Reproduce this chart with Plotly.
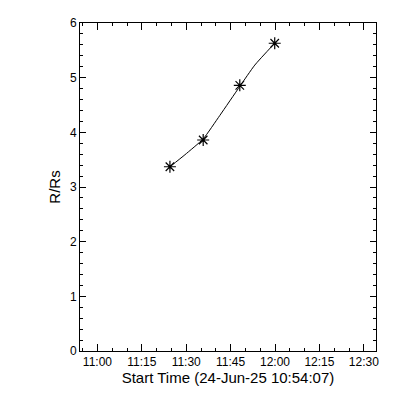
import plotly.graph_objects as go

# Measured data points (time, R/Rs)
times = ["2025-06-24 11:24:30", "2025-06-24 11:35:44", "2025-06-24 11:48:06", "2025-06-24 11:59:54"]
r_rs = [3.37, 3.86, 4.86, 5.63]

# Fitted curve
fit_times = ["2025-06-24 11:24:30", "2025-06-24 11:29:34", "2025-06-24 11:35:44",
             "2025-06-24 11:41:22", "2025-06-24 11:48:06", "2025-06-24 11:53:10",
             "2025-06-24 11:59:54"]
fit_vals = [3.37, 3.59, 3.88, 4.31, 4.84, 5.23, 5.63]

x_range = ["2025-06-24 10:54:07", "2025-06-24 12:34:07"]
y_range = [0, 6]

tick_font = dict(family="Liberation Sans", size=12, color="black")
title_font = dict(family="Liberation Sans", size=15, color="black")

fig = go.Figure()
fig.add_trace(go.Scatter(x=fit_times, y=fit_vals, mode="lines",
                         line=dict(color="black", width=1, shape="spline", smoothing=0.5),
                         hoverinfo="skip"))
fig.add_trace(go.Scatter(x=times, y=r_rs, mode="markers",
                         marker=dict(symbol="asterisk-open", size=10, color="black",
                                     line=dict(color="black", width=1.2))))

fig.update_layout(
    width=400, height=400,
    margin=dict(l=72, r=32, t=15, b=57),
    paper_bgcolor="white", plot_bgcolor="white",
    showlegend=False, font=tick_font,
)
fig.update_xaxes(
    type="date", range=x_range, tickformat="%H:%M",
    tick0="2025-06-24 11:00:00", dtick=900000,
    ticks="inside", ticklen=7, tickcolor="black", tickwidth=1,
    minor=dict(ticks="inside", ticklen=3, dtick=300000, tickcolor="black",
               tick0="2025-06-24 11:00:00"),
    showline=True, linecolor="black", linewidth=1, mirror="ticks",
    showgrid=False, zeroline=False, automargin=False,
    title=dict(text="Start Time (24-Jun-25 10:54:07)", font=title_font, standoff=2),
    tickfont=tick_font,
)
fig.update_yaxes(
    range=y_range, tick0=0, dtick=1,
    ticks="inside", ticklen=6, tickcolor="black", tickwidth=1,
    minor=dict(ticks="inside", ticklen=3, dtick=0.2, tickcolor="black"),
    showline=True, linecolor="black", linewidth=1, mirror="ticks",
    showgrid=False, zeroline=False, automargin=False,
    title=dict(text="R/Rs", font=title_font, standoff=5),
    tickfont=tick_font,
)

fig.write_html("out.html")
